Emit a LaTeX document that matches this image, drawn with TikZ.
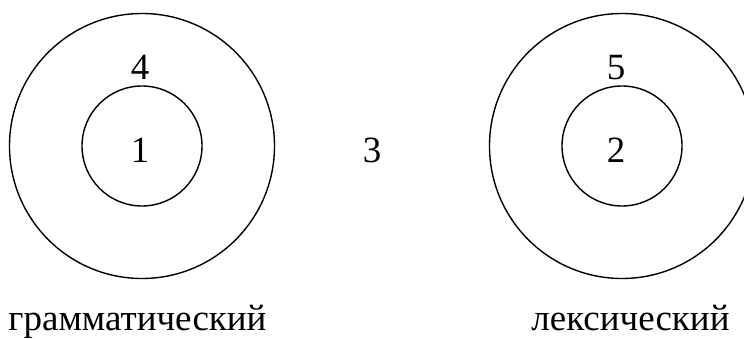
\documentclass[tikz,border=0pt]{standalone}
\usepackage{fontspec}
\setmainfont{Liberation Serif}
\begin{document}
\begin{tikzpicture}[x=1pt,y=-1pt,line width=1.4pt,
  ring/.style={circle,draw,inner sep=0pt},
  num/.style={inner sep=0pt,font=\fontsize{37}{44}\selectfont},
  caption/.style={inner sep=0pt,anchor=base,font=\fontsize{37}{44}\selectfont}]
 	\useasboundingbox (0,0) rectangle (744,339);
 	% left pair
 	\node[ring,minimum size=265pt] (outL) at (142,146){};
 	\node[ring,minimum size=120pt] (inL) at (142,146){};
 	\node[num] (4) at (140,67.5){4};
 	\node[num] (1) at (140,150){1};
 	\node[caption] (gram) at (137.5,330){грамматический};
 	% middle
 	\node[num] (3) at (372,150){3};
 	% right pair
 	\node[ring,minimum size=265pt] (outR) at (622,146){};
 	\node[ring,minimum size=120pt] (inR) at (622,146){};
 	\node[num] (5) at (616,67.5){5};
 	\node[num] (2) at (616,150){2};
 	\node[caption] (lex) at (630.5,330){лексический};
\end{tikzpicture}
\end{document}
